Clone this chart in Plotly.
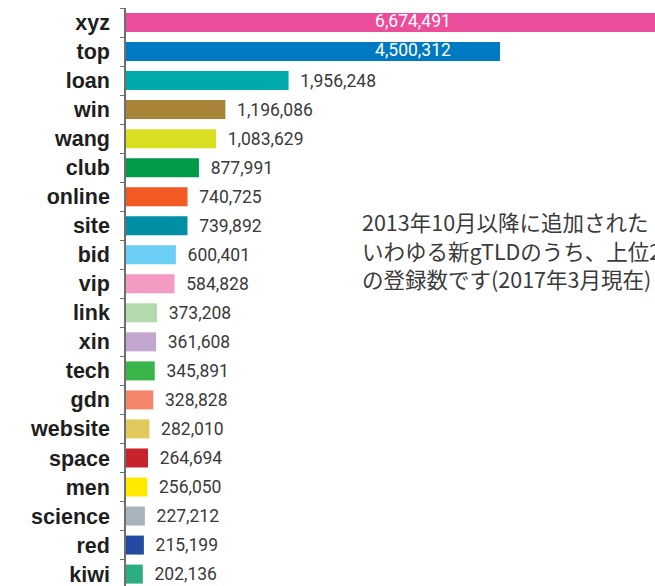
import plotly.graph_objects as go

categories = ["xyz", "top", "loan", "win", "wang", "club", "online", "site", "bid", "vip",
              "link", "xin", "tech", "gdn", "website", "space", "men", "science", "red", "kiwi"]
values = [6674491, 4500312, 1956248, 1196086, 1083629, 877991, 740725, 739892, 600401, 584828,
          373208, 361608, 345891, 328828, 282010, 264694, 256050, 227212, 215199, 202136]
colors = ["#EC4D9B", "#0079C3", "#00AAAB", "#A88439", "#D8DF21", "#009B48", "#F15A22", "#008FA4",
          "#6CCFF6", "#F39BC3", "#B3DBAD", "#C1A7D0", "#3AB54A", "#F6856D", "#E1C95C", "#C7232D",
          "#FFEA00", "#A6B5BC", "#234BA1", "#2DAD82"]
note_lines = ["2013年10月以降に追加された", "いわゆる新gTLDのうち、上位20", "の登録数です(2017年3月現在)"]

ML, MT = 126, 8
FIG_W, FIG_H = 655, 586
PLOT_W, PLOT_H = FIG_W - ML, FIG_H - MT
X_MAX = 6366000           # visible axis extent (longest bar runs off the edge)
INSIDE_LABEL_X = 3453000  # where labels of long bars sit
INSIDE_THRESHOLD = 4000000

num_font = "Roboto, DejaVu Sans Condensed, sans-serif"
num_size = 17.5

textpos = ["none" if v > INSIDE_THRESHOLD else "outside" for v in values]

fig = go.Figure()
fig.add_trace(go.Bar(
    x=values, y=categories, orientation="h",
    marker=dict(color=colors, line=dict(width=0)),
    texttemplate="\u00a0\u00a0%{x:,}",
    textposition=textpos,
    constraintext="none",
    textfont=dict(family=num_font, size=num_size, color="#3a3a3a"),
    hoverinfo="skip",
))

big_c = [c for c, v in zip(categories, values) if v > INSIDE_THRESHOLD]
big_v = [v for v in values if v > INSIDE_THRESHOLD]
fig.add_trace(go.Scatter(
    x=[INSIDE_LABEL_X] * len(big_c), y=big_c, mode="text",
    text=[f"{v:,}" for v in big_v], textposition="middle center",
    textfont=dict(family=num_font, size=num_size, color="#ffffff"),
    hoverinfo="skip", cliponaxis=False,
))

line_y = [221.5, 250, 278.5]
for txt, yy in zip(note_lines, line_y):
    fig.add_annotation(
        text=txt, xref="paper", yref="paper",
        x=(360 - ML) / PLOT_W, y=1 - (yy - MT) / PLOT_H,
        xanchor="left", yanchor="middle", showarrow=False,
        font=dict(family="Noto Sans CJK JP", size=21.5, color="#3a3a3a"),
    )

fig.update_layout(
    width=FIG_W, height=FIG_H,
    margin=dict(l=ML, r=0, t=MT, b=0),
    paper_bgcolor="white", plot_bgcolor="white",
    showlegend=False, bargap=0.345,
    xaxis=dict(range=[0, X_MAX], visible=False, showgrid=False, zeroline=False, fixedrange=True),
    yaxis=dict(
        type="category", categoryorder="array", categoryarray=categories,
        range=[19.41, -0.5],
        showline=True, linecolor="#6e6e6e", linewidth=1.5,
        ticks="outside", tickson="boundaries", ticklen=4, tickcolor="#6e6e6e", tickwidth=1.2,
        ticklabelstandoff=10,
        tickfont=dict(family="Liberation Sans, Arial, sans-serif", size=21.5, color="#1e1e1e", weight="bold"),
        showgrid=False, zeroline=False, fixedrange=True,
    ),
)

fig.write_html(
    "out.html",
    config={"displayModeBar": False},
    post_script="document.body.style.margin='0';document.body.style.overflow='hidden';",
)
